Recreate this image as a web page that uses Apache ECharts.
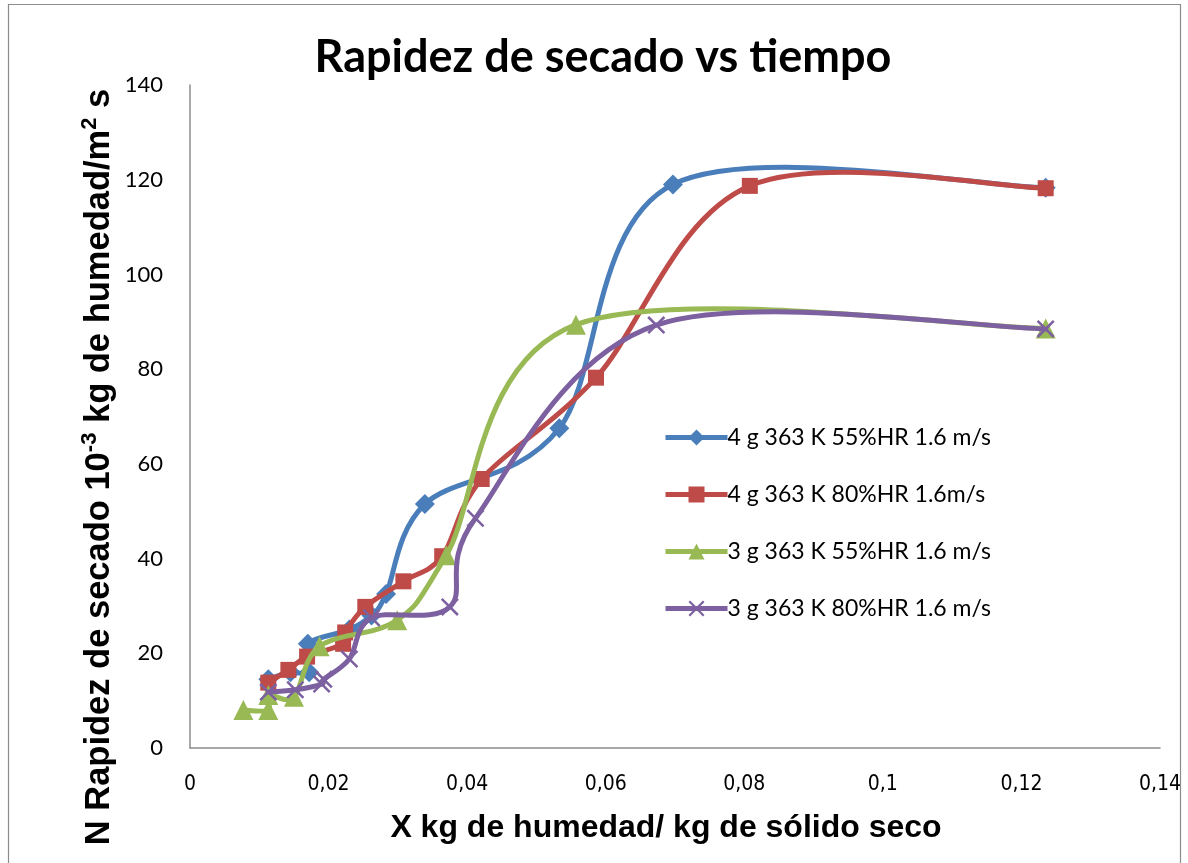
<!DOCTYPE html>
<html>
<head>
<meta charset="utf-8">
<script src="https://cdn.jsdelivr.net/npm/echarts@6/dist/echarts.min.js"></script>
<style>
  html, body { margin: 0; padding: 0; background: #fff; }
  #chart { width: 1188px; height: 863px; }
</style>
</head>
<body>
<div id="chart"></div>
<script>
// Moisture content X (kg water / kg dry solid) and drying rate N for each run
const seriesNames = [
  '4 g 363 K 55%HR 1.6 m/s',
  '4 g 363 K 80%HR 1.6m/s',
  '3 g 363 K 55%HR 1.6 m/s',
  '3 g 363 K 80%HR 1.6 m/s'
];

const x4g55 = [0.1235, 0.0697, 0.0533, 0.0339, 0.0283, 0.0262, 0.0230, 0.0170, 0.0172, 0.0145, 0.0113];
const n4g55 = [118.3, 119.0, 67.5, 51.5, 32.5, 28.0, 25.0, 22.0, 16.0, 16.0, 14.5];

const x4g80 = [0.1235, 0.0808, 0.0586, 0.0421, 0.0364, 0.0308, 0.0253, 0.0224, 0.0221, 0.0169, 0.0142, 0.0113];
const n4g80 = [118.2, 118.7, 78.2, 56.8, 40.5, 35.2, 29.8, 24.4, 22.0, 19.3, 16.5, 13.8];

const x3g55 = [0.1235, 0.0557, 0.0370, 0.0299, 0.0187, 0.0150, 0.0113, 0.0113, 0.0077];
const n3g55 = [88.6, 89.4, 40.7, 27.0, 21.5, 10.8, 11.2, 8.0, 8.0];

const x3g80 = [0.1235, 0.0673, 0.0412, 0.0375, 0.0262, 0.0230, 0.0193, 0.0190, 0.0152, 0.0113];
const n3g80 = [88.5, 89.3, 48.5, 29.8, 27.5, 18.8, 14.5, 13.5, 12.3, 11.8];

const xTicks = [0, 0.02, 0.04, 0.06, 0.08, 0.1, 0.12, 0.14];
const yTicks = [0, 20, 40, 60, 80, 100, 120, 140];

const colors = ['#4A7EBB', '#BE4B48', '#98B954', '#7D60A0'];
const crossPath = 'path://M0,1 L1,0 L10,9 L9,10 Z M9,0 L10,1 L1,10 L0,9 Z';
const symbols = ['diamond', 'rect', 'triangle', crossPath];
const symbolSizes = [20, 16, 20, 18];

function pairs(xs, ys) {
  return xs.map((x, i) => [x, ys[i]]);
}

const seriesData = [
  pairs(x4g55, n4g55),
  pairs(x4g80, n4g80),
  pairs(x3g55, n3g55),
  pairs(x3g80, n3g80)
];

// Cardinal (Catmull-Rom) Bezier through pixel points, as spreadsheet "smoothed lines" do
function smoothPath(pts) {
  let d = 'M' + pts[0][0] + ',' + pts[0][1];
  for (let i = 0; i < pts.length - 1; i++) {
    const p0 = pts[Math.max(i - 1, 0)];
    const p1 = pts[i];
    const p2 = pts[i + 1];
    const p3 = pts[Math.min(i + 2, pts.length - 1)];
    const c1x = p1[0] + (p2[0] - p0[0]) / 6;
    const c1y = p1[1] + (p2[1] - p0[1]) / 6;
    const c2x = p2[0] - (p3[0] - p1[0]) / 6;
    const c2y = p2[1] - (p3[1] - p1[1]) / 6;
    d += 'C' + c1x + ',' + c1y + ',' + c2x + ',' + c2y + ',' + p2[0] + ',' + p2[1];
  }
  return d;
}

const curveSeries = seriesData.map((data, i) => ({
  type: 'custom',
  coordinateSystem: 'cartesian2d',
  data: data,
  silent: true,
  clip: false,
  z: 2 + 2 * i,
  renderItem: (params, api) => {
    if (params.dataIndex !== 0) return null;
    const pts = data.map(p => api.coord(p));
    return {
      type: 'path',
      shape: { pathData: smoothPath(pts) },
      style: { fill: 'none', stroke: colors[i], lineWidth: 5, lineJoin: 'round', lineCap: 'round' }
    };
  }
}));

const markerSeries = seriesNames.map((name, i) => ({
  name: name,
  type: 'line',
  data: seriesData[i],
  symbol: symbols[i],
  symbolSize: symbolSizes[i],
  showAllSymbol: true,
  clip: false,
  z: 3 + 2 * i,
  lineStyle: { color: colors[i], width: 5, opacity: 0 },
  itemStyle: { color: colors[i] }
}));

const chart = echarts.init(document.getElementById('chart'), null, { renderer: 'canvas' });

const option = {
  backgroundColor: '#ffffff',
  animation: false,
  title: {
    text: 'Rapidez de secado vs tiempo',
    left: 598,
    top: 30,
    textAlign: 'center',
    textStyle: {
      fontFamily: 'Lato',
      fontWeight: 'bold',
      fontSize: 45,
      color: '#000'
    }
  },
  legend: {
    orient: 'vertical',
    left: 658,
    top: 421,
    itemWidth: 62,
    itemHeight: 20,
    itemGap: 34,
    lineStyle: { opacity: 1, width: 5 },
    textStyle: {
      fontFamily: 'Lato',
      fontSize: 23,
      color: '#000',
      padding: [0, 0, 0, -5]
    },
    data: seriesNames
  },
  grid: {
    left: 190,
    right: 28,
    top: 85,
    bottom: 115,
    containLabel: false
  },
  xAxis: {
    type: 'value',
    min: xTicks[0],
    max: xTicks[xTicks.length - 1],
    interval: 0.02,
    axisLine: { show: true, onZero: false, lineStyle: { color: '#8c8c8c', width: 1.5 } },
    axisTick: { show: false },
    splitLine: { show: false },
    axisLabel: {
      margin: 26,
      fontFamily: "'Liberation Sans Narrow', 'DejaVu Sans Condensed', 'Liberation Sans', sans-serif",
      fontSize: 21,
      color: '#000',
      formatter: v => String(+v.toFixed(2)).replace('.', ',')
    }
  },
  yAxis: {
    type: 'value',
    min: yTicks[0],
    max: yTicks[yTicks.length - 1],
    interval: 20,
    axisLine: { show: true, lineStyle: { color: '#8c8c8c', width: 1.5 } },
    axisTick: { show: false },
    splitLine: { show: false },
    axisLabel: {
      margin: 27,
      fontFamily: 'Lato',
      fontSize: 22,
      color: '#000'
    }
  },
  graphic: [
    {
      type: 'rect',
      shape: { x: 8.5, y: 4.5, width: 1172, height: 870 },
      style: { fill: 'none', stroke: '#8c8c8c', lineWidth: 1.2 },
      silent: true
    },
    {
      type: 'text',
      x: 98,
      y: 467,
      rotation: Math.PI / 2,
      style: {
        text: '{b|N Rapidez de secado 10}{s|-3}{b| kg de humedad/m}{s|2}{b| s}',
        align: 'center',
        verticalAlign: 'middle',
        rich: {
          b: { fontFamily: 'Liberation Sans', fontWeight: 'bold', fontSize: 34.5, fill: '#000', verticalAlign: 'bottom', lineHeight: 38 },
          s: { fontFamily: 'Liberation Sans', fontWeight: 'bold', fontSize: 22, fill: '#000', verticalAlign: 'top', padding: [0, 0, 20, 0], lineHeight: 38 }
        }
      }
    },
    {
      type: 'text',
      x: 666,
      y: 828,
      style: {
        text: 'X kg de humedad/ kg de sólido seco',
        align: 'center',
        verticalAlign: 'middle',
        fontFamily: 'Liberation Sans',
        fontWeight: 'bold',
        fontSize: 32,
        fill: '#000'
      }
    }
  ],
  series: curveSeries.concat(markerSeries)
};

chart.setOption(option);
</script>
</body>
</html>
